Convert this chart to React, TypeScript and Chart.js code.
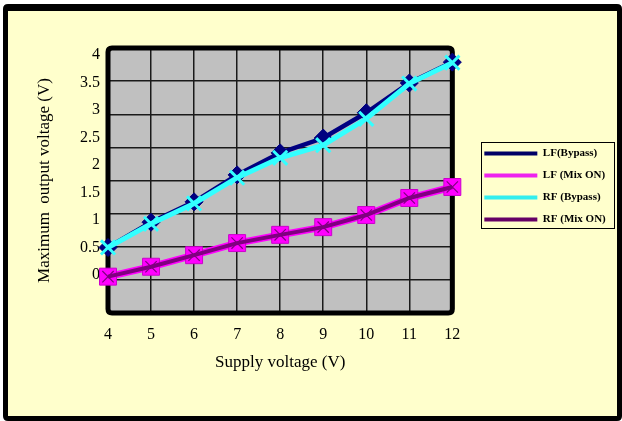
import React, { useEffect, useRef } from "react";
import { Chart, registerables } from "chart.js";

Chart.register(...registerables);

// ---- data ----
const supplyVoltage = [4, 5, 6, 7, 8, 9, 10, 11, 12];
const lfBypass = [0.5, 0.96, 1.33, 1.82, 2.22, 2.49, 2.95, 3.49, 3.87];
const lfMixOn = [-0.03, 0.15, 0.36, 0.58, 0.73, 0.87, 1.09, 1.4, 1.6];
const rfBypass = [0.5, 0.93, 1.3, 1.77, 2.13, 2.36, 2.84, 3.48, 3.86];
const rfMixOn = [-0.03, 0.15, 0.36, 0.58, 0.73, 0.87, 1.09, 1.4, 1.6];
const yTickValues = [0, 0.5, 1, 1.5, 2, 2.5, 3, 3.5, 4];
const seriesNames = ["LF(Bypass)", "LF (Mix ON)", "RF (Bypass)", "RF (Mix ON)"];
const xTitle = "Supply voltage (V)";
const yTitle = "Maximum  output voltage (V)";

// ---- styles ----
const SERIF = "'Liberation Serif', 'DejaVu Serif', serif";
const NAVY = "#000080";
const CYAN = "#33FFFF";
const MAGENTA = "#FF00FF";
const PURPLE = "#800080";
const legendColors = ["#000066", "#EE22EE", "#33EEEE", "#660066"];

const toPoints = (ys: number[]) => supplyVoltage.map((x, i) => ({ x, y: ys[i] }));

function roundRectPath(ctx: CanvasRenderingContext2D, x: number, y: number, w: number, h: number, r: number) {
  ctx.beginPath();
  ctx.moveTo(x + r, y);
  ctx.lineTo(x + w - r, y);
  ctx.quadraticCurveTo(x + w, y, x + w, y + r);
  ctx.lineTo(x + w, y + h - r);
  ctx.quadraticCurveTo(x + w, y + h, x + w - r, y + h);
  ctx.lineTo(x + r, y + h);
  ctx.quadraticCurveTo(x, y + h, x, y + h - r);
  ctx.lineTo(x, y + r);
  ctx.quadraticCurveTo(x, y, x + r, y);
  ctx.closePath();
}

const framePlugin = {
  id: "frame",
  afterLayout(chart: any) {
    const lg = chart.legend;
    const y2 = chart.scales.y2;
    if (!lg || !y2) return;
    lg.left = y2.right;
    lg.right = chart.width - 6;
    lg.width = lg.right - lg.left;
    lg.top += 6;
    lg.bottom += 6;
  },
  beforeDraw(chart: any) {
    const ctx = chart.ctx as CanvasRenderingContext2D;
    const W = chart.width;
    const H = chart.height;
    ctx.save();
    ctx.fillStyle = "#ffffff";
    ctx.fillRect(0, 0, W, H);
    ctx.fillStyle = "#000000";
    roundRectPath(ctx, 3, 4, W - 3, H - 4, 5);
    ctx.fill();
    ctx.fillStyle = "#FFFFCC";
    ctx.fillRect(8, 11, W - 13, H - 16);
    const a = chart.chartArea;
    ctx.fillStyle = "#C0C0C0";
    ctx.fillRect(a.left, a.top, a.right - a.left, a.bottom - a.top);
    ctx.restore();
  },
  beforeDatasetsDraw(chart: any) {
    const ctx = chart.ctx as CanvasRenderingContext2D;
    const a = chart.chartArea;
    ctx.save();
    ctx.strokeStyle = "#000000";
    ctx.lineWidth = 5;
    roundRectPath(ctx, a.left, a.top, a.right - a.left, a.bottom - a.top, 4);
    ctx.stroke();
    ctx.restore();
  },
  afterDraw(chart: any) {
    const lg = chart.legend;
    if (!lg || !lg.legendHitBoxes || !lg.legendHitBoxes.length) return;
    const hb = lg.legendHitBoxes;
    const left = hb[0].left - 3;
    const right = Math.max(...hb.map((h: any) => h.left + h.width)) + 9;
    const firstC = hb[0].top + hb[0].height / 2;
    const last = hb[hb.length - 1];
    const lastC = last.top + last.height / 2;
    const ctx = chart.ctx as CanvasRenderingContext2D;
    ctx.save();
    ctx.strokeStyle = "#000000";
    ctx.lineWidth = 1;
    ctx.strokeRect(Math.round(left) + 0.5, Math.round(firstC - 12) + 0.5, Math.round(right - left), Math.round(lastC + 8 - (firstC - 12)));
    ctx.restore();
  },
};

export default function App() {
  const ref = useRef<HTMLCanvasElement | null>(null);

  useEffect(() => {
    if (!ref.current) return;
    const chart = new Chart(ref.current, {
      type: "line",
      data: {
        datasets: [
          {
            label: seriesNames[0],
            data: toPoints(lfBypass),
            borderColor: NAVY,
            backgroundColor: NAVY,
            borderWidth: 4.5,
            pointStyle: "rectRot",
            pointRadius: 9,
            pointBackgroundColor: NAVY,
            pointBorderColor: NAVY,
            pointBorderWidth: 1,
            order: 4,
            clip: false,
          },
          {
            label: seriesNames[1],
            data: toPoints(lfMixOn),
            borderColor: MAGENTA,
            backgroundColor: MAGENTA,
            borderWidth: 7,
            pointStyle: "rect",
            pointRadius: 12,
            pointBackgroundColor: MAGENTA,
            pointBorderColor: "#CC00CC",
            pointBorderWidth: 1,
            order: 2,
            clip: false,
          },
          {
            label: seriesNames[2],
            data: toPoints(rfBypass),
            borderColor: CYAN,
            backgroundColor: CYAN,
            borderWidth: 5,
            pointStyle: "crossRot",
            pointRadius: 10,
            pointBackgroundColor: CYAN,
            pointBorderColor: CYAN,
            pointBorderWidth: 3,
            order: 3,
            clip: false,
          },
          {
            label: seriesNames[3],
            data: toPoints(rfMixOn),
            borderColor: PURPLE,
            backgroundColor: PURPLE,
            borderWidth: 4,
            pointStyle: "crossRot",
            pointRadius: 8,
            pointBackgroundColor: PURPLE,
            pointBorderColor: PURPLE,
            pointBorderWidth: 1.2,
            order: 1,
            clip: false,
          },
        ],
      },
      options: {
        responsive: false,
        animation: false,
        devicePixelRatio: 1,
        events: [],
        layout: { padding: { left: 0, top: 48, right: 54, bottom: 0 } },
        plugins: {
          tooltip: { enabled: false },
          title: { display: false },
          legend: {
            position: "right",
            align: "center",
            fullSize: false,
            labels: {
              boxWidth: 53,
              boxHeight: 4,
              padding: 11,
              color: "#000",
              font: { family: SERIF, size: 11, weight: "bold" },
              generateLabels: (c: any) =>
                c.data.datasets.map((ds: any, i: number) => ({
                  text: ds.label,
                  fillStyle: legendColors[i],
                  strokeStyle: legendColors[i],
                  lineWidth: 0,
                  hidden: false,
                  datasetIndex: i,
                  fontColor: "#000",
                })),
            },
          },
        },
        scales: {
          x: {
            type: "linear",
            min: 4,
            max: 12,
            afterFit: (s: any) => {
              s.height = 108;
            },
            ticks: {
              stepSize: 1,
              padding: 12,
              color: "#000",
              font: { family: SERIF, size: 16 },
              maxRotation: 0,
            },
            grid: { color: "#1a1a1a", lineWidth: 1.5, drawTicks: false },
            border: { display: false },
            title: {
              display: true,
              text: xTitle,
              color: "#000",
              font: { family: SERIF, size: 17 },
              padding: { top: 0, bottom: 48 },
            },
          },
          y: {
            type: "linear",
            position: "left",
            min: -0.691,
            max: 4.127,
            afterBuildTicks: (s: any) => {
              s.ticks = yTickValues.map((v) => ({ value: v }));
            },
            afterFit: (s: any) => {
              s.width = 108;
            },
            ticks: {
              padding: 8,
              color: "#000",
              font: { family: SERIF, size: 16 },
              callback: (v: any) => String(v),
            },
            grid: { display: false, drawTicks: false },
            border: { display: false },
            title: {
              display: true,
              text: yTitle,
              color: "#000",
              font: { family: SERIF, size: 17 },
              padding: { top: 34, bottom: 0 },
            },
          },
          y2: {
            type: "linear",
            position: "right",
            min: 0,
            max: 8,
            afterFit: (s: any) => {
              s.width = 21;
            },
            ticks: { stepSize: 1, display: false },
            grid: { color: "#1a1a1a", lineWidth: 1.5, drawTicks: false },
            border: { display: false },
          },
        },
      } as any,
      plugins: [framePlugin],
    });
    return () => chart.destroy();
  }, []);

  return (
    <div style={{ position: "fixed", left: 0, top: 0, width: 622, height: 421 }}>
      <canvas ref={ref} width={622} height={421} style={{ display: "block", width: 622, height: 421 }} />
    </div>
  );
}
